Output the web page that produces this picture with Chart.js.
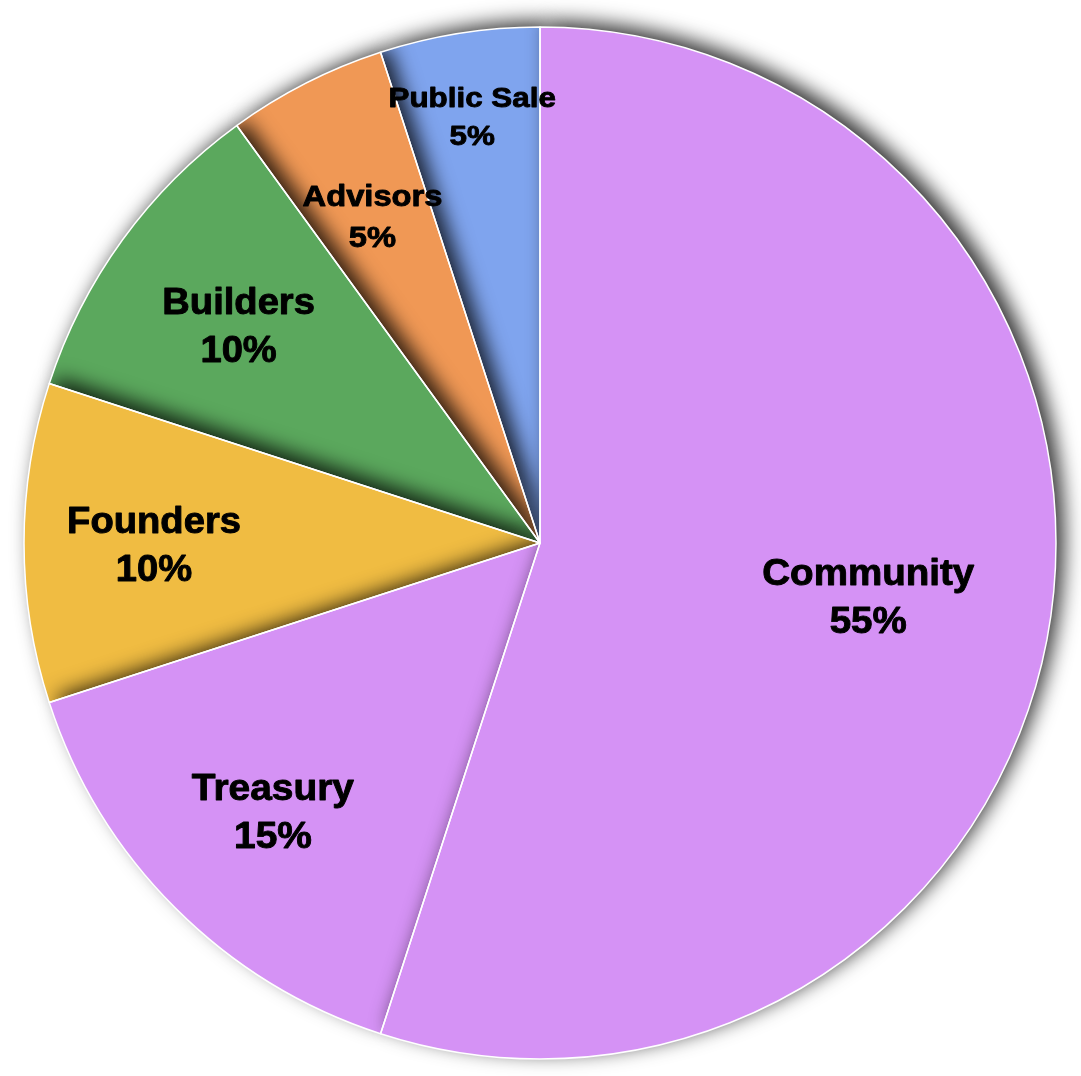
<!DOCTYPE html>
<html>
<head>
<meta charset="utf-8">
<script src="https://cdn.jsdelivr.net/npm/chart.js@4"></script>
<style>
html,body{margin:0;padding:0;background:#fff;}
#wrap{width:1081px;height:1076px;}
</style>
</head>
<body>
<div id="wrap"><canvas id="c" width="1081" height="1076"></canvas></div>
<script>
// Data
const categories = ['Community', 'Treasury', 'Founders', 'Builders', 'Advisors', 'Public Sale'];
const shares = [55, 15, 10, 10, 5, 5];
const sliceColors = ['#D592F5', '#D592F5', '#F0BC42', '#5BA85D', '#F09855', '#7FA4EE'];

// Label styling (position fraction along radius, font size, line gap, horizontal stretch)
const labelRadiusFrac = [0.644, 0.732, 0.748, 0.722, 0.715, 0.840];
const labelFontSize = [36, 36, 36, 36, 30, 28];
const labelLineGap = [48, 48.5, 48, 48, 41, 37.5];
const labelStretch = [1.07, 1.08, 1.06, 1.06, 1.09, 1.12];

const shadowOrderPlugin = {
  id: 'shadowOrder',
  beforeDatasetDraw(chart, args) {
    const ctx = chart.ctx;
    const meta = args.meta;
    ctx.save();
    ctx.shadowColor = 'rgba(0,0,0,0.8)';
    ctx.shadowBlur = 20;
    ctx.shadowOffsetX = 8;
    ctx.shadowOffsetY = -6;
    for (let i = meta.data.length - 1; i >= 0; i--) {
      meta.data[i].draw(ctx);
    }
    ctx.restore();
    return false;
  },
  afterDatasetsDraw(chart) {
    const ctx = chart.ctx;
    const meta = chart.getDatasetMeta(0);
    ctx.save();
    ctx.strokeStyle = '#ffffff';
    ctx.lineWidth = 1.5;
    ctx.lineJoin = 'round';
    meta.data.forEach(arc => {
      const p = arc.getProps(['x', 'y', 'startAngle', 'endAngle', 'outerRadius'], true);
      ctx.beginPath();
      ctx.moveTo(p.x, p.y);
      ctx.arc(p.x, p.y, p.outerRadius, p.startAngle, p.endAngle);
      ctx.closePath();
      ctx.stroke();
    });
    ctx.restore();
  }
};

const labelPlugin = {
  id: 'sliceLabels',
  afterDatasetsDraw(chart) {
    const ctx = chart.ctx;
    const meta = chart.getDatasetMeta(0);
    meta.data.forEach((arc, i) => {
      const p = arc.getProps(['x', 'y', 'startAngle', 'endAngle', 'outerRadius'], true);
      const mid = (p.startAngle + p.endAngle) / 2;
      const d = p.outerRadius * labelRadiusFrac[i];
      const x = p.x + Math.cos(mid) * d;
      const y = p.y + Math.sin(mid) * d;
      const s = labelFontSize[i];
      const g = labelLineGap[i] / 2;
      const off = 0.36 * s + 1;
      ctx.save();
      ctx.translate(x, y);
      ctx.scale(labelStretch[i], 1);
      ctx.fillStyle = '#000';
      ctx.strokeStyle = '#000';
      ctx.lineWidth = 0.9;
      ctx.lineJoin = 'round';
      ctx.textAlign = 'center';
      ctx.textBaseline = 'alphabetic';
      ctx.font = 'bold ' + s + 'px "Liberation Sans", Arial, sans-serif';
      const t1 = categories[i], t2 = shares[i] + '%';
      ctx.fillText(t1, 0, -g + off);
      ctx.strokeText(t1, 0, -g + off);
      ctx.fillText(t2, 0, g + off);
      ctx.strokeText(t2, 0, g + off);
      ctx.restore();
    });
  }
};

new Chart(document.getElementById('c'), {
  type: 'pie',
  data: {
    labels: categories,
    datasets: [{
      data: shares,
      backgroundColor: sliceColors,
      borderColor: '#ffffff',
      borderWidth: 0
    }]
  },
  options: {
    responsive: false,
    animation: false,
    layout: { padding: { left: 24, right: 25, top: 27, bottom: 17 } },
    plugins: {
      legend: { display: false },
      tooltip: { enabled: false }
    }
  },
  plugins: [shadowOrderPlugin, labelPlugin]
});
</script>
</body>
</html>
